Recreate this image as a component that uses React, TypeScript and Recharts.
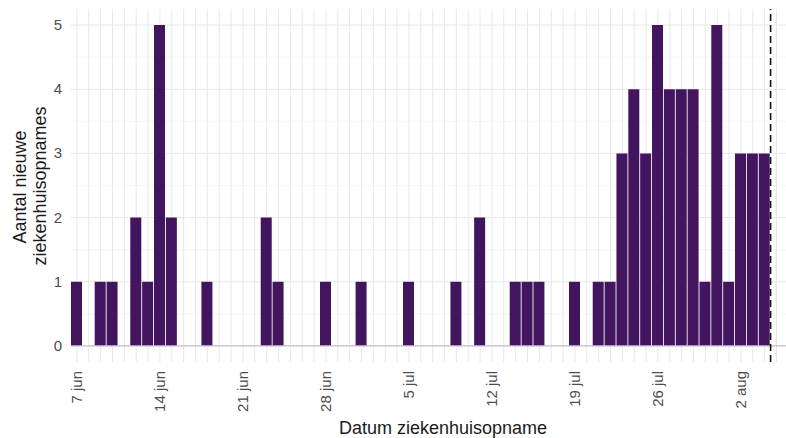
import React from "react";
import { ComposedChart, Bar, XAxis, YAxis, ReferenceLine, CartesianGrid } from "recharts";

// Daily counts starting 7 jun (index 0) through 4 aug (index 58)
const counts = [
  1, 0, 1, 1, 0, 2, 1, 5, 2, 0,
  0, 1, 0, 0, 0, 0, 2, 1, 0, 0,
  0, 1, 0, 0, 1, 0, 0, 0, 1, 0,
  0, 0, 1, 0, 2, 0, 0, 1, 1, 1,
  0, 0, 1, 0, 1, 1, 3, 4, 3, 5,
  4, 4, 4, 1, 5, 1, 3, 3, 3,
];
const tickDays = [0, 7, 14, 21, 28, 35, 42, 49, 56];
const tickLabels = ["7 jun", "14 jun", "21 jun", "28 jun", "5 jul", "12 jul", "19 jul", "26 jul", "2 aug"];
const yTicks = [0, 1, 2, 3, 4, 5];
const yMinor = [0.5, 1.5, 2.5, 3.5, 4.5];
const cutoffDay = 58.5;

const data = counts.map((v, i) => ({ day: i, count: v }));
const gridDays = Array.from({ length: 61 }, (_, i) => i);

const FONT = "'Liberation Sans', Arial, Helvetica, sans-serif";

const XTick = (props: any) => {
  const { x, payload } = props;
  const idx = tickDays.indexOf(payload.value);
  const label = idx >= 0 ? tickLabels[idx] : "";
  const bx = x + 5.5;
  const by = 371;
  return (
    <text
      x={bx}
      y={by}
      transform={`rotate(-90 ${bx} ${by})`}
      textAnchor="end"
      fill="#4d4d4d"
      fontSize={15}
      fontFamily={FONT}
    >
      {label}
    </text>
  );
};

const YTick = (props: any) => {
  const { y, payload } = props;
  return (
    <text x={62} y={y + 5} textAnchor="end" fill="#4d4d4d" fontSize={15} fontFamily={FONT}>
      {payload.value}
    </text>
  );
};

export default function App() {
  return (
    <div style={{ position: "absolute", left: 0, top: 0, width: 786, height: 438, background: "#fff" }}>
      <ComposedChart width={786} height={438} data={data} margin={{ top: 9, right: 0, left: 0, bottom: 0 }}>
        <CartesianGrid
          horizontalValues={yMinor}
          vertical={false}
          stroke="#f2f2f2"
          strokeWidth={0.8}
        />
        <CartesianGrid
          horizontalValues={yTicks}
          verticalValues={gridDays}
          stroke="#e8e8e8"
          strokeWidth={1}
        />
        <XAxis
          type="number"
          dataKey="day"
          domain={[-0.5, 59.8]}
          ticks={tickDays}
          allowDataOverflow
          axisLine={false}
          tickLine={false}
          height={76}
          tick={<XTick />}
          interval={0}
          label={{
            content: () => (
              <text x={443} y={434} textAnchor="middle" fill="#1a1a1a" fontSize={18} fontFamily={FONT}>
                Datum ziekenhuisopname
              </text>
            ),
          }}
        />
        <YAxis
          type="number"
          domain={[-0.25, 5.25]}
          ticks={yTicks}
          allowDataOverflow
          axisLine={false}
          tickLine={false}
          width={71}
          tick={<YTick />}
          interval={0}
          label={{
            content: () => (
              <g>
                <text x={26} y={187} transform="rotate(-90 26 187)" textAnchor="middle" fill="#1a1a1a" fontSize={18} fontFamily={FONT}>
                  Aantal nieuwe
                </text>
                <text x={46} y={186} transform="rotate(-90 46 186)" textAnchor="middle" fill="#1a1a1a" fontSize={18} fontFamily={FONT}>
                  ziekenhuisopnames
                </text>
              </g>
            ),
          }}
        />
        <Bar dataKey="count" fill="#44155f" barSize={11} isAnimationActive={false} />
        <ReferenceLine y={0} stroke="#c9bfd6" strokeWidth={1.2} />
        <ReferenceLine x={cutoffDay} stroke="#111" strokeWidth={1.6} strokeDasharray="7 4" />
      </ComposedChart>
    </div>
  );
}
